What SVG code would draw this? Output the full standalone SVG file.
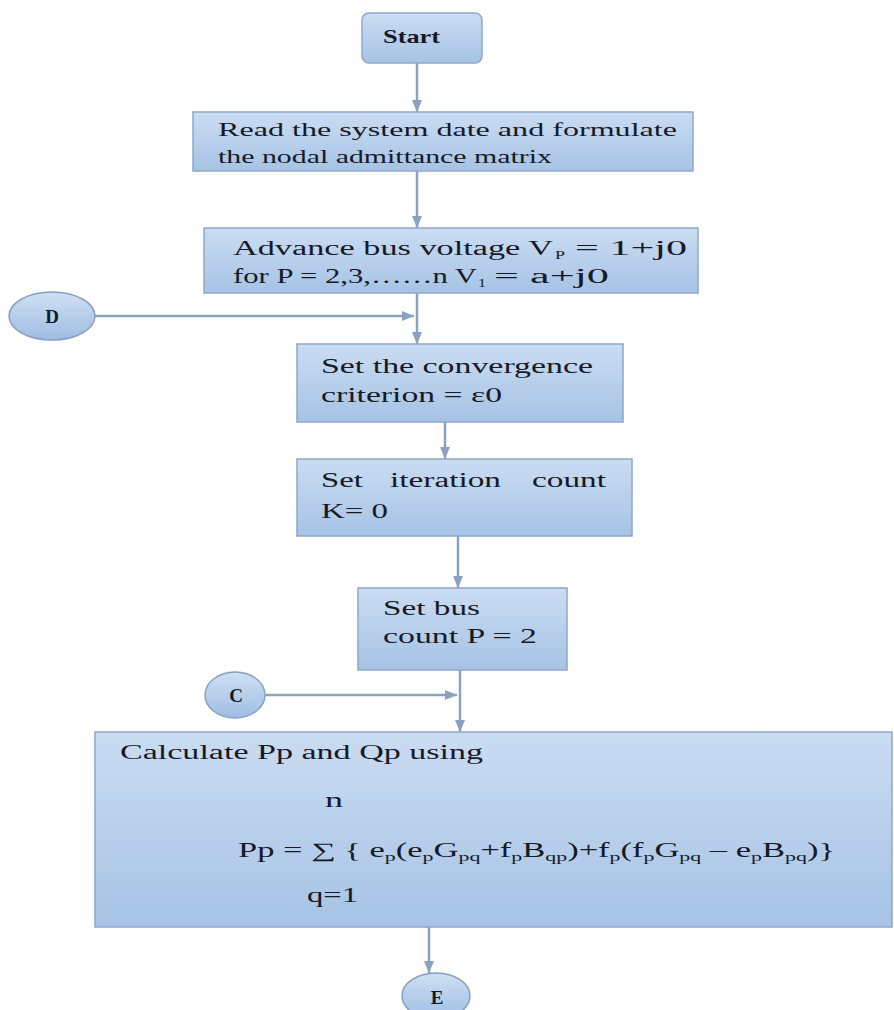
<svg xmlns="http://www.w3.org/2000/svg" width="894" height="1010" viewBox="0 0 894 1010">
<defs>
<linearGradient id="boxg" x1="0" y1="0" x2="0" y2="1">
<stop offset="0" stop-color="#cbdcf2"/>
<stop offset="1" stop-color="#a6c3e5"/>
</linearGradient>
<linearGradient id="circg" x1="0" y1="0" x2="0" y2="1">
<stop offset="0" stop-color="#cfe0f4"/>
<stop offset="1" stop-color="#9fbde2"/>
</linearGradient>
<marker id="arr" markerUnits="userSpaceOnUse" markerWidth="12" markerHeight="10" viewBox="0 0 12 10" refX="12" refY="5" orient="auto">
<path d="M0,0 L12,5 L0,10 z" fill="#8aa2c2"/>
</marker>
<style>
.box{fill:url(#boxg);stroke:#8ea8c9;stroke-width:1.5}
.circ{fill:url(#circg);stroke:#86a0c3;stroke-width:1.5}
.t{font-family:"Liberation Serif","Times New Roman",serif;fill:#161a26;font-size:20.5px}
.t18{font-size:18.5px}
.sub{font-size:13px}
.lbl{font-family:"Liberation Serif","Times New Roman",serif;fill:#161a26;font-size:19px;font-weight:bold}
.con{stroke:#8aa2c2;stroke-width:2.5;fill:none;marker-end:url(#arr)}
</style>
</defs>
<rect width="894" height="1010" fill="#ffffff"/>

<g id="connectors">
<line class="con" x1="417" y1="63" x2="417" y2="112"/>
<line class="con" x1="417" y1="171" x2="417" y2="228"/>
<line class="con" x1="417" y1="293" x2="417" y2="344"/>
<line class="con" x1="95" y1="316" x2="414" y2="316"/>
<line class="con" x1="445" y1="422" x2="445" y2="459"/>
<line class="con" x1="458" y1="536" x2="458" y2="588"/>
<line class="con" x1="460" y1="670" x2="460" y2="732"/>
<line class="con" x1="265" y1="695" x2="457" y2="695"/>
<line class="con" x1="429" y1="927" x2="429" y2="973"/>
</g>

<g id="start">
<rect class="box" x="362" y="13" width="120" height="50" rx="7"/>
<text class="lbl" x="383" y="43" textLength="57" lengthAdjust="spacingAndGlyphs">Start</text>
</g>

<g id="read">
<rect class="box" x="193" y="112" width="500" height="59"/>
<text class="t t18" x="218" y="136" textLength="459" lengthAdjust="spacingAndGlyphs">Read the system date and formulate</text>
<text class="t t18" x="218" y="163" textLength="334" lengthAdjust="spacingAndGlyphs">the nodal admittance matrix</text>
</g>

<g id="advance">
<rect class="box" x="204" y="228" width="494" height="65"/>
<text class="t" x="233" y="255" textLength="320" lengthAdjust="spacingAndGlyphs">Advance bus voltage V</text>
<text class="t sub" x="555" y="259" textLength="10" lengthAdjust="spacingAndGlyphs">P</text>
<text class="t" x="575" y="255" textLength="112" lengthAdjust="spacingAndGlyphs">= 1+j0</text>
<text class="t" x="233" y="283" textLength="244" lengthAdjust="spacingAndGlyphs">for P = 2,3,……n V</text>
<text class="t sub" x="478" y="287" textLength="8" lengthAdjust="spacingAndGlyphs">1</text>
<text class="t" x="494" y="283" textLength="115" lengthAdjust="spacingAndGlyphs">= a+j0</text>
</g>

<g id="D">
<ellipse class="circ" cx="52" cy="316" rx="43" ry="24"/>
<text class="lbl" x="52" y="323" text-anchor="middle">D</text>
</g>

<g id="converge">
<rect class="box" x="297" y="344" width="326" height="78"/>
<text class="t" x="321" y="373" textLength="272" lengthAdjust="spacingAndGlyphs">Set the convergence</text>
<text class="t" x="321" y="402" textLength="181" lengthAdjust="spacingAndGlyphs">criterion = ε0</text>
</g>

<g id="iteration">
<rect class="box" x="297" y="459" width="335" height="77"/>
<text class="t" x="321" y="487" textLength="42" lengthAdjust="spacingAndGlyphs">Set</text>
<text class="t" x="390" y="487" textLength="111" lengthAdjust="spacingAndGlyphs">iteration</text>
<text class="t" x="532" y="487" textLength="74" lengthAdjust="spacingAndGlyphs">count</text>
<text class="t" x="321" y="518" textLength="67" lengthAdjust="spacingAndGlyphs">K= 0</text>
</g>

<g id="buscount">
<rect class="box" x="358" y="588" width="209" height="82"/>
<text class="t" x="383" y="615" textLength="97" lengthAdjust="spacingAndGlyphs">Set bus</text>
<text class="t" x="383" y="643" textLength="154" lengthAdjust="spacingAndGlyphs">count P = 2</text>
</g>

<g id="C">
<ellipse class="circ" cx="235" cy="695" rx="30" ry="23"/>
<text class="lbl" x="236" y="702" text-anchor="middle">C</text>
</g>

<g id="calculate">
<rect class="box" x="95" y="732" width="797" height="195"/>
<text class="t" x="120" y="759" textLength="363" lengthAdjust="spacingAndGlyphs">Calculate Pp and Qp using</text>
<text class="t" x="325" y="807" textLength="18" lengthAdjust="spacingAndGlyphs">n</text>
<text class="t" x="238" y="857" textLength="597" lengthAdjust="spacingAndGlyphs">Pp = ∑ { e<tspan class="sub" dy="4">p</tspan><tspan dy="-4">(e</tspan><tspan class="sub" dy="4">p</tspan><tspan dy="-4">G</tspan><tspan class="sub" dy="4">pq</tspan><tspan dy="-4">+f</tspan><tspan class="sub" dy="4">p</tspan><tspan dy="-4">B</tspan><tspan class="sub" dy="4">qp</tspan><tspan dy="-4">)+f</tspan><tspan class="sub" dy="4">p</tspan><tspan dy="-4">(f</tspan><tspan class="sub" dy="4">p</tspan><tspan dy="-4">G</tspan><tspan class="sub" dy="4">pq</tspan><tspan dy="-4"> – e</tspan><tspan class="sub" dy="4">p</tspan><tspan dy="-4">B</tspan><tspan class="sub" dy="4">pq</tspan><tspan dy="-4">)}</tspan></text>
<text class="t" x="307" y="902" textLength="51" lengthAdjust="spacingAndGlyphs">q=1</text>
</g>

<g id="E">
<ellipse class="circ" cx="436" cy="996" rx="34" ry="23"/>
<text class="lbl" x="437" y="1004" text-anchor="middle">E</text>
</g>
</svg>
